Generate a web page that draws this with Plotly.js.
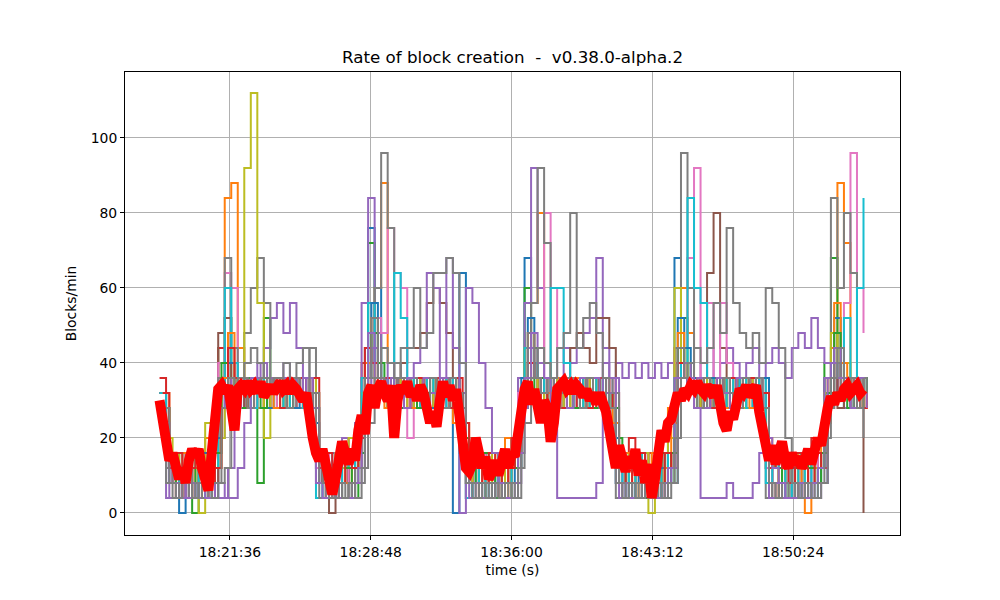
<!DOCTYPE html>
<html>
<head>
<meta charset="utf-8">
<script src="https://cdn.plot.ly/plotly-3.0.1.min.js"></script>
<style>html,body{margin:0;padding:0;background:#fff;}#chart{width:1000px;height:600px;}</style>
</head>
<body>
<div id="chart"></div>
<script>
// node series: one value every 20 s starting at 18:18:00 (second group offset by 10 s)
const startTime = "18:18:00";
const stepSeconds = 20;
const offsetSeconds = 10;
// average series: one value every 10 s starting at 18:18:00
const averageStepSeconds = 10;
const tickLabels = ["18:21:36", "18:28:48", "18:36:00", "18:43:12", "18:50:24"];
const yTicks = [0, 20, 40, 60, 80, 100];

const blue = [32,12,8,0,12,16,8,12,4,28,
  36,32,36,28,32,36,32,36,32,28,
  32,36,32,28,12,8,4,12,16,8,
  20,36,76,60,36,32,28,36,32,28,
  32,36,28,32,36,0,64,4,12,8,
  16,12,8,16,20,32,68,40,36,32,
  28,36,32,36,28,32,36,32,28,24,
  12,8,16,12,4,8,16,12,20,68,
  36,32,36,28,32,36,32,28,36,32,
  36,28,32,16,8,12,4,16,12,8,
  12,16,36,32,36,28,32,36,32];
const orange = [28,16,12,8,4,16,12,20,8,36,
  84,88,44,32,36,28,36,32,36,32,
  28,36,32,36,16,12,8,4,12,20,
  16,28,40,60,88,40,32,36,28,32,
  36,32,28,36,32,24,16,8,12,4,
  8,16,12,20,8,28,44,56,80,40,
  36,32,28,36,32,36,28,32,36,32,
  16,12,8,4,12,16,8,20,28,44,
  60,48,36,32,28,36,32,36,28,32,
  36,32,28,20,12,4,8,12,16,0,
  8,12,24,44,88,72,36,32,36];
const green = [24,12,16,4,8,0,12,16,20,44,
  52,36,32,28,36,8,52,32,36,28,
  36,32,36,32,12,8,16,12,4,16,
  24,36,72,48,36,28,32,36,32,36,
  28,32,36,32,28,36,24,12,20,16,
  12,8,16,4,12,36,60,44,32,36,
  32,28,36,32,36,28,32,36,32,28,
  20,16,12,8,16,4,12,16,8,40,
  52,36,32,36,28,32,36,32,28,36,
  32,36,28,12,16,8,12,4,8,16,
  12,20,40,68,40,36,32,28,36];
const red = [36,16,8,12,16,4,8,12,16,44,
  32,36,28,32,36,32,28,36,32,36,
  32,28,36,32,8,12,4,16,8,12,
  20,40,36,32,36,28,32,36,28,32,
  36,32,28,36,32,28,16,12,8,16,
  12,4,16,8,20,28,36,32,36,28,
  24,36,32,28,36,32,36,28,32,36,
  12,16,20,8,12,16,4,12,16,36,
  32,36,28,32,36,32,28,32,36,28,
  32,36,32,16,8,12,16,8,12,16,
  20,16,28,36,32,36,28,32,36];
const purple = [28,8,12,4,8,12,16,12,8,20,
  32,36,28,36,32,36,44,52,56,48,
  56,44,36,24,12,8,16,12,20,16,
  24,56,84,48,36,32,28,36,32,28,
  36,32,28,36,32,36,32,16,12,8,
  16,12,8,16,12,36,56,92,60,36,
  32,36,44,40,44,48,52,68,44,36,
  40,36,40,36,40,36,40,36,40,44,
  36,32,36,40,44,36,40,44,40,36,
  40,44,36,40,44,40,36,44,48,44,
  52,44,40,32,36,28,36,32,28];
const brown = [32,12,16,8,12,4,16,12,8,48,
  52,36,32,28,36,32,36,28,32,36,
  32,36,28,32,16,8,0,12,16,8,
  12,32,44,36,32,28,36,40,44,44,
  48,56,60,56,48,36,28,8,12,4,
  8,16,12,8,16,28,36,32,28,36,
  32,36,32,44,48,44,40,52,52,44,
  12,8,4,16,12,8,4,16,12,36,
  32,36,28,36,64,80,44,32,36,28,
  32,36,28,16,4,8,12,4,8,12,
  16,12,32,36,28,32,36,32,0];
const pink = [28,16,8,12,4,8,16,12,20,40,
  64,60,36,32,28,36,32,36,28,32,
  36,28,32,36,12,16,8,12,4,16,
  20,36,40,52,48,76,64,60,20,32,
  28,36,32,28,36,32,28,8,12,16,
  4,8,12,16,8,32,36,40,36,80,
  60,32,28,36,32,28,36,32,28,36,
  16,8,4,12,16,4,8,4,12,40,
  44,68,92,36,56,36,56,40,32,28,
  36,32,28,12,8,16,4,8,12,4,
  12,16,28,36,44,56,96,60,48];
const gray = [32,12,8,16,4,12,8,4,20,36,
  68,44,36,48,60,68,56,36,32,36,
  32,28,36,44,8,4,8,4,8,4,
  12,28,36,60,96,76,40,36,32,28,
  36,32,28,32,36,32,28,4,8,4,
  8,4,8,4,8,28,36,56,92,72,
  36,32,28,36,32,28,36,32,28,32,
  4,8,4,8,4,8,4,8,12,36,
  96,60,36,32,28,36,32,28,32,36,
  28,32,36,4,8,4,8,4,8,4,
  8,12,36,84,60,80,64,36,20];
const olive = [28,20,16,12,8,16,0,24,12,20,
  28,32,36,92,112,56,20,36,32,28,
  36,32,28,36,16,12,8,16,12,20,
  16,32,40,36,32,28,36,32,28,36,
  32,36,28,32,36,32,24,16,8,12,
  4,16,12,8,12,28,44,36,32,28,
  36,32,28,36,32,28,36,32,28,32,
  12,16,8,12,16,0,8,12,20,60,
  40,36,28,32,36,32,28,36,32,28,
  36,32,28,16,12,8,16,12,8,12,
  16,20,32,48,36,40,32,36,28];
const cyan = [32,16,12,8,12,16,4,8,12,32,
  60,40,36,32,28,36,32,36,32,28,
  36,32,28,24,4,8,12,4,16,12,
  20,36,56,40,36,32,64,52,36,32,
  28,36,32,28,36,32,16,4,8,12,
  4,8,16,12,8,24,44,40,36,32,
  60,60,40,32,36,28,32,36,32,28,
  8,12,4,16,12,8,12,4,16,36,
  40,84,60,56,36,32,28,36,32,36,
  28,32,36,8,12,16,4,12,8,16,
  4,12,28,40,36,52,36,60,84];
// offset group (sampled 10 s later)
const blue2 = [28,8,16,12,4,8,16,12,20,32,
  40,36,28,32,36,32,28,36,32,36,
  28,32,36,24,8,16,12,8,12,16,
  24,44,56,36,32,36,28,32,36,32,
  36,28,32,36,28,32,20,16,8,12,
  4,12,16,8,12,36,52,36,32,28,
  36,32,36,28,32,36,28,36,32,20,
  16,4,8,16,12,8,12,16,8,52,
  44,36,32,28,36,32,36,32,28,32,
  32,28,36,12,16,8,12,16,4,12,
  16,8,32,52,36,32,28,36,32];
const orange2 = [32,12,4,16,8,12,4,16,12,36,
  48,32,36,28,32,36,32,28,36,32,
  36,32,28,32,12,4,12,16,8,12,
  20,40,52,36,28,32,36,32,28,36,
  32,36,32,28,36,28,24,12,16,8,
  12,16,4,12,16,32,48,36,28,32,
  36,28,32,36,28,32,36,32,28,24,
  12,16,8,4,12,16,8,12,24,48,
  36,32,36,28,32,36,28,32,36,32,
  28,36,32,8,4,12,16,12,8,16,
  12,20,36,56,40,32,36,28,32];
const green2 = [28,16,8,12,16,8,12,8,16,40,
  36,32,28,36,32,28,36,32,36,28,
  32,36,32,28,16,12,8,16,12,4,
  16,36,48,40,32,36,28,32,36,28,
  32,36,28,32,36,32,20,8,12,16,
  12,4,12,16,12,28,40,32,36,28,
  32,36,32,28,36,32,28,36,32,28,
  8,12,16,12,4,12,16,8,16,44,
  40,32,28,36,32,36,32,28,36,32,
  36,32,28,16,12,8,4,12,16,12,
  8,16,32,48,36,28,32,36,32];
const red2 = [32,12,16,4,12,16,12,4,12,28,
  44,36,32,28,36,32,36,32,28,36,
  32,36,28,36,12,16,4,8,16,12,
  20,44,40,32,36,32,36,28,32,36,
  28,32,36,32,28,36,24,16,12,8,
  16,12,8,12,16,32,40,36,28,36,
  32,28,36,32,36,28,32,36,28,32,
  16,8,12,16,8,12,4,16,12,40,
  36,32,36,32,28,36,32,36,28,32,
  36,28,32,12,16,12,8,16,12,8,
  16,12,28,40,32,36,32,28,32];
const purple3 = [24,4,8,4,8,4,4,8,4,4,
  12,28,36,32,36,40,36,32,36,32,
  36,32,36,28,8,4,8,4,4,8,
  12,32,44,36,32,36,32,28,36,32,
  36,32,28,36,32,28,12,4,8,4,
  4,8,4,4,8,28,44,36,32,36,
  32,36,28,32,36,32,36,28,32,36,
  4,8,4,4,8,4,4,8,12,36,
  40,32,36,28,32,36,32,28,36,32,
  32,36,28,4,8,4,4,8,4,8,
  4,8,36,44,36,32,36,32,28];
const gray3 = [28,8,4,8,4,8,4,8,8,28,
  36,32,36,28,32,36,32,36,32,28,
  36,32,28,32,4,8,4,8,4,8,
  8,36,52,36,32,28,36,32,36,32,
  28,36,32,28,36,32,16,8,4,8,
  4,8,4,8,4,32,48,36,32,36,
  28,32,36,32,28,36,32,28,36,32,
  8,4,8,4,8,4,8,4,8,44,
  36,32,28,36,32,28,36,32,28,36,
  32,36,28,8,4,8,4,8,4,8,
  4,8,28,40,32,36,28,36,32];
const purple2 = [24,4,4,8,4,4,8,4,4,8,
  4,4,12,24,36,40,36,32,36,40,
  36,32,36,24,8,4,4,8,4,4,
  8,24,48,36,32,40,28,32,36,40,
  44,64,60,36,68,44,0,60,56,40,
  28,16,8,4,4,16,36,48,40,36,
  28,4,4,4,4,4,4,8,40,36,
  8,4,4,4,8,4,4,4,12,36,
  32,36,28,4,4,4,4,8,4,4,
  4,8,16,20,12,8,4,4,8,4,
  8,12,36,40,36,32,28,36,32];
const gray2 = [24,8,4,8,12,4,8,12,4,8,
  12,24,36,40,44,40,36,32,36,40,
  36,40,44,32,16,8,4,8,4,8,
  4,12,24,36,44,40,36,44,44,60,
  44,48,64,64,68,64,40,8,4,8,
  4,8,4,8,4,12,24,36,44,40,
  36,44,48,80,44,52,56,48,36,28,
  8,4,8,4,8,4,8,4,8,20,
  36,40,44,40,44,56,48,76,56,48,
  44,48,40,60,56,44,20,8,4,8,
  4,8,20,36,44,32,36,28,36];
const average = [30,24,18,14,16,13,9,12,8,14,
  17,15,17,12,8,6,16,26,33,34,
  32,34,26,22,33,34,33,35,33,34,
  32,35,31,33,34,32,34,35,33,34,
  32,34,33,31,30,32,24,20,16,14,
  17,12,7,5,9,14,19,16,13,17,
  14,22,26,21,32,34,28,33,35,32,
  30,34,20,30,34,32,35,31,33,30,
  34,32,29,24,27,23,30,35,31,34,
  30,33,26,18,12,11,13,20,17,12,
  15,9,11,14,10,13,17,12,16,15,
  22,27,33,35,29,33,26,24,30,28,
  19,24,33,34,35,33,34,32,34,33,
  31,33,30,32,29,32,30,27,22,16,
  12,18,14,11,15,12,17,10,14,8,
  13,4,9,18,22,19,24,25,29,32,
  30,33,32,34,33,35,33,32,34,33,
  31,34,28,24,22,27,25,30,33,32,
  34,31,33,34,27,22,17,14,18,13,
  16,19,14,12,16,13,15,12,14,17,
  13,16,20,18,24,28,31,29,32,30,
  33,34,32,33,34,32,33];

const day = "2024-01-01 ";
function toSec(s){const p=s.split(":").map(Number);return p[0]*3600+p[1]*60+p[2];}
function fmt(sec){const h=Math.floor(sec/3600),m=Math.floor(sec%3600/60),s=sec%60;
  return day+[h,m,s].map(v=>String(v).padStart(2,"0")).join(":");}
const t0 = toSec(startTime);
const times = blue.map((_,i)=>fmt(t0+i*stepSeconds));
const times2 = blue.map((_,i)=>fmt(t0+offsetSeconds+i*stepSeconds));
const timesAvg = average.map((_,i)=>fmt(t0+i*averageStepSeconds));

const series = [
  [blue,"#1f77b4",times],[orange,"#ff7f0e",times],[green,"#2ca02c",times],[red,"#d62728",times],
  [purple,"#9467bd",times],[brown,"#8c564b",times],[pink,"#e377c2",times],[gray,"#7f7f7f",times],
  [olive,"#bcbd22",times],[cyan,"#17becf",times],
  [blue2,"#1f77b4",times2],[orange2,"#ff7f0e",times2],[green2,"#2ca02c",times2],[red2,"#d62728",times2],
  [purple3,"#9467bd",times2],[gray3,"#7f7f7f",times2],
  [purple2,"#9467bd",times],[gray2,"#7f7f7f",times]
];
const traces = series.map(([v,c,t])=>({x:t,y:v,type:"scatter",mode:"lines",
  line:{color:c,width:2,shape:"hv"},hoverinfo:"skip",showlegend:false}));
traces.push({x:timesAvg,y:average,type:"scatter",mode:"lines",
  line:{color:"#ff0000",width:10,shape:"linear"},hoverinfo:"skip",showlegend:false});

const font = {family:"DejaVu Sans, sans-serif",color:"#000"};
const layout = {
  width:1000,height:600,
  margin:{l:125,r:100,t:72,b:65,pad:0},
  paper_bgcolor:"#fff",plot_bgcolor:"#fff",
  font:Object.assign({size:13.9},font),
  title:{text:"Rate of block creation\u00a0\u00a0-\u00a0\u00a0v0.38.0-alpha.2",
    font:Object.assign({size:16.7},font),x:0.5125,xref:"container",y:1-57/600,yref:"container",yanchor:"middle"},
  xaxis:{type:"date",range:[day+"18:16:14",day+"18:55:52"],
    tickvals:tickLabels.map(l=>day+l),ticktext:tickLabels,
    showgrid:true,gridcolor:"#b0b0b0",gridwidth:1,zeroline:false,
    showline:true,mirror:true,linecolor:"#000",linewidth:1,
    ticks:"outside",ticklen:4,tickcolor:"#000",tickfont:Object.assign({size:13.9},font),
    title:{text:"time (s)",font:Object.assign({size:13.9},font),standoff:6}},
  yaxis:{range:[-5.9,117.6],tickvals:yTicks,
    showgrid:true,gridcolor:"#b0b0b0",gridwidth:1,zeroline:false,
    showline:true,mirror:true,linecolor:"#000",linewidth:1,
    ticks:"outside",ticklen:4,tickcolor:"#000",tickfont:Object.assign({size:13.9},font),
    title:{text:"Blocks/min",font:Object.assign({size:13.9},font),standoff:10}}
};
Plotly.newPlot("chart",traces,layout,{displayModeBar:false,staticPlot:true});
</script>
</body>
</html>
